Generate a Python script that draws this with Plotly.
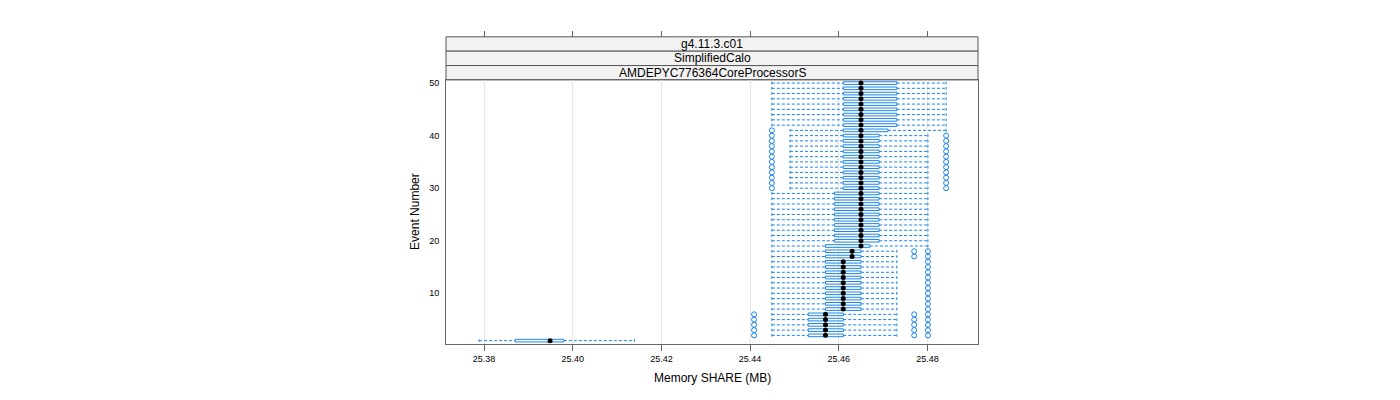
import plotly.graph_objects as go

# ---------------- data ----------------
events = list(range(1, 51))

# lower whisker end, per event 1..50
whisker_low = [
    25.3789,                                                     # 1
    25.4449, 25.4449, 25.4449, 25.4449, 25.4449,                 # 2-6
    25.4449, 25.4449, 25.4449, 25.4449, 25.4449,                 # 7-11
    25.4449, 25.4449, 25.4449, 25.4449, 25.4449,                 # 12-16
    25.4449, 25.4449, 25.4449,                                   # 17-19
    25.4449, 25.4449, 25.4449, 25.4449, 25.4449,                 # 20-24
    25.4449, 25.4449, 25.4449, 25.4449, 25.4449,                 # 25-29
    25.4490, 25.4490, 25.4490, 25.4490, 25.4490, 25.4490,        # 30-35
    25.4490, 25.4490, 25.4490, 25.4490, 25.4490,                 # 36-40
    25.4490,                                                     # 41
    25.4449, 25.4449, 25.4449, 25.4449, 25.4449,                 # 42-46
    25.4449, 25.4449, 25.4449, 25.4449,                          # 47-50
]
box_q1 = [
    25.3870,
    25.4531, 25.4531, 25.4531, 25.4531, 25.4531,
    25.4570, 25.4570, 25.4570, 25.4570, 25.4570,
    25.4570, 25.4570, 25.4570, 25.4570, 25.4570,
    25.4570, 25.4570, 25.4570,
    25.4590, 25.4590, 25.4590, 25.4590, 25.4590,
    25.4590, 25.4590, 25.4590, 25.4590, 25.4590,
    25.4610, 25.4610, 25.4610, 25.4610, 25.4610, 25.4610,
    25.4610, 25.4610, 25.4610, 25.4610, 25.4610,
    25.4610,
    25.4610, 25.4610, 25.4610, 25.4610, 25.4610,
    25.4610, 25.4610, 25.4610, 25.4610,
]
box_median = [
    25.3949,
    25.4570, 25.4570, 25.4570, 25.4570, 25.4570,
    25.4610, 25.4610, 25.4610, 25.4610, 25.4610,
    25.4610, 25.4610, 25.4610, 25.4610, 25.4610,
    25.4630, 25.4630, 25.4650,
    25.4650, 25.4650, 25.4650, 25.4650, 25.4650,
    25.4650, 25.4650, 25.4650, 25.4650, 25.4650,
    25.4650, 25.4650, 25.4650, 25.4650, 25.4650, 25.4650,
    25.4650, 25.4650, 25.4650, 25.4650, 25.4650,
    25.4650,
    25.4650, 25.4650, 25.4650, 25.4650, 25.4650,
    25.4650, 25.4650, 25.4650, 25.4650,
]
box_q3 = [
    25.3980,
    25.4610, 25.4610, 25.4610, 25.4610, 25.4610,
    25.4650, 25.4650, 25.4650, 25.4650, 25.4650,
    25.4650, 25.4650, 25.4650, 25.4650, 25.4650,
    25.4650, 25.4650, 25.4670,
    25.4691, 25.4691, 25.4691, 25.4691, 25.4691,
    25.4691, 25.4691, 25.4691, 25.4691, 25.4691,
    25.4691, 25.4691, 25.4691, 25.4691, 25.4691, 25.4691,
    25.4691, 25.4691, 25.4691, 25.4691, 25.4691,
    25.4711,
    25.4731, 25.4731, 25.4731, 25.4731, 25.4731,
    25.4731, 25.4731, 25.4731, 25.4731,
]
whisker_high = [
    25.4139,
    25.4731, 25.4731, 25.4731, 25.4731, 25.4731,
    25.4731, 25.4731, 25.4731, 25.4731, 25.4731,
    25.4731, 25.4731, 25.4731, 25.4731, 25.4731,
    25.4731, 25.4731, 25.4801,
    25.4801, 25.4801, 25.4801, 25.4801, 25.4801,
    25.4801, 25.4801, 25.4801, 25.4801, 25.4801,
    25.4801, 25.4801, 25.4801, 25.4801, 25.4801, 25.4801,
    25.4801, 25.4801, 25.4801, 25.4801, 25.4801,
    25.4842,
    25.4842, 25.4842, 25.4842, 25.4842, 25.4842,
    25.4842, 25.4842, 25.4842, 25.4842,
]

# outliers (event, value)
outlier_event = [
    2, 3, 4, 5, 6,
    2, 3, 4, 5, 6,
    2, 3, 4, 5, 6,
    7, 8, 9, 10, 11, 12, 13, 14, 15, 16,
    17, 18,
    17, 18,
    30, 31, 32, 33, 34, 35, 36, 37, 38, 39, 40,
    30, 31, 32, 33, 34, 35, 36, 37, 38, 39, 40,
    41,
]
outlier_value = [
    25.4409, 25.4409, 25.4409, 25.4409, 25.4409,
    25.4770, 25.4770, 25.4770, 25.4770, 25.4770,
    25.4801, 25.4801, 25.4801, 25.4801, 25.4801,
    25.4801, 25.4801, 25.4801, 25.4801, 25.4801,
    25.4801, 25.4801, 25.4801, 25.4801, 25.4801,
    25.4770, 25.4770,
    25.4801, 25.4801,
    25.4449, 25.4449, 25.4449, 25.4449, 25.4449, 25.4449,
    25.4449, 25.4449, 25.4449, 25.4449, 25.4449,
    25.4842, 25.4842, 25.4842, 25.4842, 25.4842, 25.4842,
    25.4842, 25.4842, 25.4842, 25.4842, 25.4842,
    25.4449,
]

x_ticks = [25.38, 25.40, 25.42, 25.44, 25.46, 25.48]
y_ticks = [10, 20, 30, 40, 50]
strip_labels = ["g4.11.3.c01", "SimplifiedCalo", "AMDEPYC776364CoreProcessorS"]
x_title = "Memory SHARE (MB)"
y_title = "Event Number"

# ---------------- style ----------------
BLUE = "#1a84e8"
FONT = "Liberation Sans, Arial, sans-serif"
W, H = 1400, 400
px_left, px_right = 446, 978
py_top, py_bottom = 78.3, 343.5
strip_top = 35.0
dom_x = [px_left / W, px_right / W]
dom_y = [(H - py_bottom) / H, (H - py_top) / H]
BOX_W = 0.5
CAP = 0.25

fig = go.Figure()

# whiskers (dashed)
wx, wy = [], []
for e, lo, a, b, hi in zip(events, whisker_low, box_q1, box_q3, whisker_high):
    wx += [lo, a, None, b, hi, None]
    wy += [e, e, None, e, e, None]
fig.add_trace(go.Scatter(x=wx, y=wy, mode="lines",
                         line=dict(color=BLUE, width=1, dash="3px,2px"),
                         hoverinfo="skip", showlegend=False))
# whisker caps
cx, cy = [], []
for e, lo, hi in zip(events, whisker_low, whisker_high):
    cx += [lo, lo, None, hi, hi, None]
    cy += [e - CAP, e + CAP, None, e - CAP, e + CAP, None]
fig.add_trace(go.Scatter(x=cx, y=cy, mode="lines",
                         line=dict(color=BLUE, width=1, dash="3px,2px"),
                         hoverinfo="skip", showlegend=False))

# boxes
fig.add_trace(go.Box(y=events, q1=box_q1, median=box_median, q3=box_q3,
                     lowerfence=box_q1, upperfence=box_q3,
                     orientation="h", width=BOX_W, whiskerwidth=0,
                     line=dict(color=BLUE, width=1),
                     fillcolor="rgba(0,0,0,0)", boxpoints=False,
                     showlegend=False))

# outliers
fig.add_trace(go.Scatter(x=outlier_value, y=outlier_event, mode="markers",
                         marker=dict(symbol="circle-open", size=5,
                                     color=BLUE, line=dict(width=1, color=BLUE)),
                         showlegend=False))
# medians
fig.add_trace(go.Scatter(x=box_median, y=events, mode="markers",
                         marker=dict(symbol="circle", size=5, color="black"),
                         showlegend=False))

# dummy trace for top tick axis
fig.add_trace(go.Scatter(x=[x_ticks[0]], y=[events[0]], xaxis="x2",
                         mode="markers", marker=dict(opacity=0),
                         hoverinfo="skip", showlegend=False))

x_range = [25.38 - (484 - px_left) / 4435, 25.38 + (px_right - 484) / 4435]

fig.update_layout(
    width=W, height=H,
    margin=dict(l=0, r=0, t=0, b=0),
    paper_bgcolor="white", plot_bgcolor="white",
    font=dict(family=FONT, color="black"),
    showlegend=False,
    xaxis=dict(domain=dom_x, range=x_range, tickvals=x_ticks,
               ticktext=[f"{v:.2f}" for v in x_ticks],
               showgrid=True, gridcolor="#e6e6e6", gridwidth=1,
               zeroline=False, showline=True, linecolor="#666666",
               linewidth=1, mirror=True, ticks="outside", ticklen=6,
               tickcolor="#666666", tickfont=dict(size=9, family=FONT)),
    xaxis2=dict(domain=dom_x, range=x_range, overlaying="x", anchor="free",
                position=(H - strip_top) / H, side="top", tickvals=x_ticks,
                showticklabels=False, ticks="outside", ticklen=6,
                tickcolor="#666666", showgrid=False, zeroline=False,
                showline=False),
    yaxis=dict(domain=dom_y, range=[0.4, 50.6], tickvals=y_ticks,
               showgrid=False, zeroline=False, showline=True,
               linecolor="#666666", linewidth=1, mirror=True, ticks="",
               ticklabelstandoff=4, tickfont=dict(size=9, family=FONT)),
)

# strips
n = len(strip_labels)
step = (py_top - strip_top) / n
for i, lab in enumerate(strip_labels):
    t = strip_top + i * step
    b = t + step
    fig.add_shape(type="rect", xref="paper", yref="paper",
                  x0=dom_x[0], x1=dom_x[1], y0=(H - b) / H, y1=(H - t) / H,
                  fillcolor="#f2f2f2", line=dict(color="#555555", width=1),
                  layer="below")
    fig.add_annotation(text=lab, xref="paper", yref="paper",
                       x=(dom_x[0] + dom_x[1]) / 2, y=(H - (t + b) / 2) / H,
                       xanchor="center", yanchor="middle", showarrow=False,
                       font=dict(size=12, family=FONT, color="black"))

# axis titles
fig.add_annotation(text=x_title, xref="paper", yref="paper",
                   x=(dom_x[0] + dom_x[1]) / 2, y=(H - 378) / H,
                   xanchor="center", yanchor="middle", showarrow=False,
                   font=dict(size=12, family=FONT, color="black"))
fig.add_annotation(text=y_title, xref="paper", yref="paper",
                   x=415 / W, y=(H - 211) / H, textangle=-90,
                   xanchor="center", yanchor="middle", showarrow=False,
                   font=dict(size=12, family=FONT, color="black"))

fig.write_html("out.html",
               config={"displayModeBar": False},
               post_script="document.body.style.margin='0';"
                           "document.body.style.overflow='hidden';")
